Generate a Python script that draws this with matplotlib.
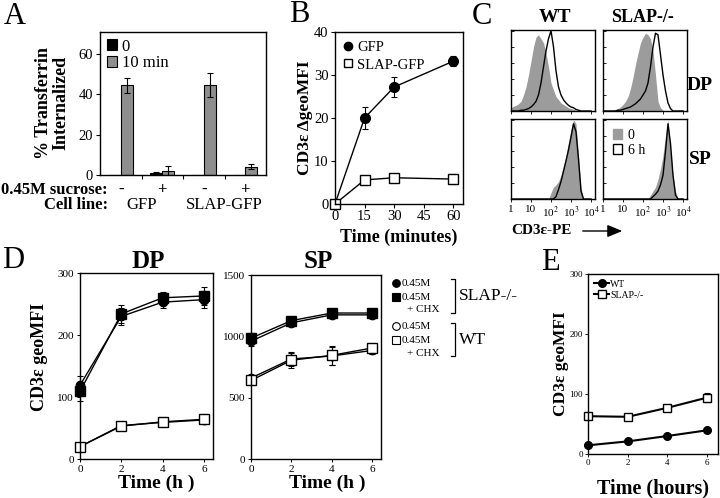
import matplotlib
matplotlib.use('Agg')
import matplotlib.pyplot as plt
from matplotlib.lines import Line2D
from matplotlib.patches import Patch, FancyArrowPatch
import numpy as np

plt.rcParams['font.family'] = ['Liberation Serif', 'DejaVu Serif']
plt.rcParams['mathtext.fontset'] = 'stix'
plt.rcParams['axes.linewidth'] = 1.0

W, H = 720, 498

# ---------------- Panel A data ----------------
a_sucrose = ['-', '+', '-', '+']
a_cell_lines = ['GFP', 'SLAP-GFP']
a_t0 = [0, 1.1, 0, 0]
a_t0_err = [0, 0.5, 0, 0]
a_t10 = [44.5, 2.0, 44.5, 4.2]
a_t10_err = [3.7, 2.5, 6.0, 1.3]
a_yticks = [0, 20, 40, 60]

# ---------------- Panel B data ----------------
b_time = [0, 15, 30, 60]
b_gfp = [0, 20.0, 27.2, 33.2]
b_gfp_err = [0, 2.6, 2.3, 1.2]
b_slap = [0, 5.6, 6.1, 5.8]
b_slap_err = [0, 0.8, 0.6, 1.2]

# ---------------- Panel C data (log10 fluorescence, % of max) ----------------
hist_decades = [0.0, 0.125, 0.25, 0.375, 0.5, 0.625, 0.75, 0.875, 1.0, 1.125, 1.25,
                1.375, 1.5, 1.625, 1.75, 1.875, 2.0, 2.125, 2.25, 2.375, 2.5, 2.625,
                2.75, 2.875, 3.0, 3.125, 3.25, 3.375, 3.5, 3.625, 3.75, 3.875, 4.0]
wt_dp_0h = [4, 6, 7, 9, 12, 20, 30, 45, 62, 80, 92, 95, 90, 85, 72, 55, 35, 26, 18, 14,
            10, 8, 6, 4, 3, 2, 1, 0, 0, 0, 0, 0, 0]
wt_dp_6h = [0, 0, 0, 0, 1, 1, 2, 3, 5, 8, 12, 20, 35, 55, 75, 90, 100, 80, 50, 30, 20,
            14, 10, 7, 5, 4, 2, 1, 0, 0, 0, 0, 0]
slap_dp_0h = [0, 0, 0, 1, 1, 2, 3, 5, 8, 12, 18, 28, 42, 58, 72, 85, 92, 97, 95, 90, 75,
              45, 12, 4, 1, 0, 0, 0, 0, 0, 0, 0, 0]
slap_dp_6h = [0, 0, 0, 0, 0, 0, 1, 1, 2, 3, 4, 5, 7, 9, 12, 15, 20, 25, 35, 55, 80, 97,
              95, 70, 45, 25, 10, 3, 0, 0, 0, 0, 0]
wt_sp_0h = [0, 0, 0, 0, 0, 0, 0, 0, 0, 0, 0, 0, 0, 0, 0, 0, 8, 15, 18, 22, 30, 42, 55,
            72, 88, 100, 95, 55, 15, 0, 0, 0, 0]
wt_sp_6h = [0, 0, 0, 0, 0, 0, 0, 0, 0, 0, 0, 0, 0, 0, 0, 0, 0, 0, 3, 12, 22, 35, 48, 62,
            78, 95, 85, 50, 10, 0, 0, 0, 0]
slap_sp_0h = [0, 0, 0, 0, 0, 0, 0, 0, 0, 0, 0, 0, 0, 0, 0, 0, 0, 0, 0, 5, 10, 15, 25, 38,
              55, 80, 100, 65, 30, 10, 0, 0, 0]
slap_sp_6h = [0, 0, 0, 0, 0, 0, 0, 0, 0, 0, 0, 0, 0, 0, 0, 0, 0, 0, 0, 0, 3, 6, 10, 18,
              30, 60, 95, 70, 30, 5, 0, 0, 0]
c_tick_labels = ['1', '10', '10$^2$', '10$^3$', '10$^4$']

# ---------------- Panel D data ----------------
d_time = [0, 2, 4, 6]
dp_slap_045 = [119, 230, 253, 257]
dp_slap_chx = [109, 234, 260, 263]
dp_slap_err = [15, 14, 9, 14]
dp_wt_045 = [20, 54, 59, 63]
dp_wt_chx = [20, 53, 60, 64]
dp_wt_err = [3, 4, 3, 3]
sp_slap_045 = [960, 1110, 1175, 1175]
sp_slap_chx = [985, 1128, 1190, 1190]
sp_slap_err = [40, 25, 20, 25]
sp_wt_045 = [660, 815, 840, 885]
sp_wt_chx = [640, 805, 845, 905]
sp_wt_err = [25, 60, 75, 25]

# ---------------- Panel E data ----------------
e_time = [0, 2, 4, 6]
e_wt = [14.5, 21, 30, 39.5]
e_wt_err = [1, 1, 1.5, 2]
e_slap = [63, 62, 77, 94]
e_slap_err = [2, 2, 3, 8]

fig = plt.figure(figsize=(W / 100, H / 100), dpi=100)


def rect(l, t, r, b):
    return [l / W, 1 - b / H, (r - l) / W, (b - t) / H]


def ftext(x, y, s, **kw):
    return fig.text(x / W, 1 - y / H, s, **kw)


def fline(xs, ys, **kw):
    fig.add_artist(Line2D([x / W for x in xs], [1 - y / H for y in ys],
                          transform=fig.transFigure, **kw))


LETTER = dict(fontsize=22, va='top', ha='left')

# ================= Panel A =================
axA = fig.add_axes(rect(100, 32, 266, 175))
xA = np.arange(len(a_sucrose))
bw = 0.29
axA.bar(xA - bw / 2, a_t0, bw, color='black', edgecolor='black', lw=0.8, label='0')
axA.bar(xA + bw / 2, a_t10, bw, color='#8e8e8e', edgecolor='black', lw=0.8, label='10 min')
for i in range(len(xA)):
    if a_t0_err[i] > 0:
        axA.errorbar(xA[i] - bw / 2, a_t0[i], yerr=a_t0_err[i], fmt='none', ecolor='black',
                     elinewidth=0.8, capsize=2.5, capthick=0.8)
    if a_t10_err[i] > 0:
        axA.errorbar(xA[i] + bw / 2, a_t10[i], yerr=a_t10_err[i], fmt='none', ecolor='black',
                     elinewidth=0.8, capsize=2.5, capthick=0.8)
axA.set_xlim(-0.5, 3.5)
axA.set_ylim(0, 71)
axA.set_yticks(a_yticks)
axA.set_xticks([0.5, 1.5, 2.5])
axA.set_xticklabels([])
axA.tick_params(axis='y', labelsize=10.5, length=3, width=0.8, pad=2)
axA.tick_params(axis='x', length=3, width=0.8)
axA.legend(loc='upper left', frameon=False, fontsize=12, handlelength=0.6, handleheight=0.6,
           handletextpad=0.3, labelspacing=0.05, borderaxespad=0.2, borderpad=0.2)
ftext(52, 103, '% Transferrin\nInternalized', rotation=90, ha='center', va='center',
      fontsize=13, fontweight='bold', linespacing=1.0)
for i, s in enumerate(a_sucrose):
    xd = axA.transData.transform((xA[i], 0))[0]
    ftext(xd, 190, s, ha='center', va='center', fontsize=12, fontweight='bold')
ftext(108, 190, '0.45M sucrose:', ha='right', va='center', fontsize=12, fontweight='bold')
ftext(108, 205, 'Cell line:', ha='right', va='center', fontsize=12, fontweight='bold')
for j, s in enumerate(a_cell_lines):
    xd = axA.transData.transform((2 * j + 0.5, 0))[0]
    ftext(xd, 205, s, ha='center', va='center', fontsize=12)
ftext(4, 2, 'A', **LETTER)

# ================= Panel B =================
axB = fig.add_axes(rect(335, 32, 463, 204))
axB.errorbar(b_time, b_gfp, yerr=b_gfp_err, fmt='-o', color='black', mfc='black', mec='black',
             ms=7, lw=1, elinewidth=0.8, capsize=2, capthick=0.8, label='GFP', clip_on=False)
axB.errorbar(b_time, b_slap, yerr=b_slap_err, fmt='-s', color='black', mfc='white', mec='black',
             ms=7, lw=1, elinewidth=0.8, capsize=2, capthick=0.8, label='SLAP-GFP', clip_on=False)
axB.set_xlim(0, 65)
axB.set_ylim(0, 40)
axB.set_xticks([0, 15, 30, 45, 60])
axB.set_yticks([0, 10, 20, 30, 40])
axB.tick_params(labelsize=10.5, length=3, width=0.8, pad=1.5)
hB, lB = axB.get_legend_handles_labels()
hB = [Line2D([], [], marker=h[0].get_marker(), mfc=h[0].get_markerfacecolor(), mec='black',
             ls='none', ms=6) for h in hB]
axB.legend(hB, lB, loc='upper left', frameon=False, fontsize=10.5, handlelength=0.6,
           handletextpad=0.3, labelspacing=0.3, borderaxespad=0.2)
ftext(305, 118, 'CD3ε ΔgeoMFI', rotation=90, ha='center', va='center', fontsize=12.5,
      fontweight='bold')
ftext(399, 237, 'Time (minutes)', ha='center', va='center', fontsize=13, fontweight='bold')
ftext(289, 0, 'B', **LETTER)

# ================= Panel C =================
hist_x = [10 ** d for d in hist_decades]
c_specs = [
    (rect(511, 30, 595, 111), wt_dp_0h, wt_dp_6h, False),
    (rect(603, 30, 687, 111), slap_dp_0h, slap_dp_6h, False),
    (rect(511, 119, 595, 199), wt_sp_0h, wt_sp_6h, True),
    (rect(603, 119, 687, 199), slap_sp_0h, slap_sp_6h, True),
]
c_axes = []
for pos, g, k, bottom in c_specs:
    ax = fig.add_axes(pos)
    ax.fill_between(hist_x, g, 0, color='#9c9c9c', lw=0, label='0')
    ax.plot(hist_x, k, color='black', lw=1.0, label='6 h')
    ax.set_xscale('log')
    ax.set_xlim(1, 10 ** 4.2)
    ax.set_ylim(0, 101)
    ax.set_xticks([1, 10, 100, 1000, 10000])
    ax.set_xticklabels(c_tick_labels if bottom else [])
    ax.set_yticks([0, 20, 40, 60, 80, 100])
    ax.set_yticklabels([])
    ax.tick_params(axis='y', length=2, width=0.6, direction='in')
    ax.tick_params(axis='x', which='major', length=2.5, width=0.6, labelsize=8, pad=1.5)
    ax.tick_params(axis='x', which='minor', length=1.3, width=0.5)
    c_axes.append(ax)
c_axes[3].legend(handles=[Patch(facecolor='#9c9c9c', edgecolor='#9c9c9c', label='0'),
                          Patch(facecolor='white', edgecolor='black', label='6 h')],
                 loc='upper left', frameon=False, fontsize=10, handlelength=0.7,
                 handleheight=0.7, handletextpad=0.4, labelspacing=0.15, borderaxespad=0.3)
ftext(555, 17, 'WT', ha='center', va='center', fontsize=14, fontweight='bold')
ftext(642, 17, 'SLAP-/-', ha='center', va='center', fontsize=13, fontweight='bold')
ftext(700, 85, 'DP', ha='center', va='center', fontsize=14, fontweight='bold')
ftext(700, 160, 'SP', ha='center', va='center', fontsize=14, fontweight='bold')
ftext(511, 231, 'CD3ε-PE', ha='left', va='center', fontsize=11, fontweight='bold')
fig.add_artist(FancyArrowPatch((580 / W, 1 - 231 / H), (625 / W, 1 - 231 / H),
                               transform=fig.transFigure, arrowstyle='-|>,head_length=6,head_width=2.5',
                               color='black', lw=1, mutation_scale=1.5))
ftext(472, 2, 'C', **LETTER)

# ================= Panel D =================
def draw_d(ax, s045, schx, serr, w045, wchx, werr):
    kw = dict(color='black', lw=1, elinewidth=0.8, capsize=2, capthick=0.8, clip_on=False)
    ax.errorbar(d_time, w045, yerr=werr, fmt='-o', mfc='white', mec='black', ms=6, **kw)
    ax.errorbar(d_time, wchx, yerr=werr, fmt='-s', mfc='white', mec='black', ms=6.5, **kw)
    ax.errorbar(d_time, s045, yerr=serr, fmt='-o', mfc='black', mec='black', ms=6, **kw)
    ax.errorbar(d_time, schx, yerr=serr, fmt='-s', mfc='black', mec='black', ms=6.5, **kw)
    ax.set_xticks([0, 2, 4, 6])
    ax.tick_params(labelsize=8, length=2.5, width=0.7, pad=2)


axDP = fig.add_axes(rect(80, 273, 213, 459))
draw_d(axDP, dp_slap_045, dp_slap_chx, dp_slap_err, dp_wt_045, dp_wt_chx, dp_wt_err)
axDP.set_xlim(0, 6.44)
axDP.set_ylim(0, 300)
axDP.set_yticks([0, 100, 200, 300])

axSP = fig.add_axes(rect(251, 275, 381, 459))
draw_d(axSP, sp_slap_045, sp_slap_chx, sp_slap_err, sp_wt_045, sp_wt_chx, sp_wt_err)
axSP.set_xlim(0, 6.44)
axSP.set_ylim(0, 1500)
axSP.set_yticks([0, 500, 1000, 1500])

ftext(148, 262, 'DP', ha='center', va='center', fontsize=18, fontweight='bold')
ftext(318, 262, 'SP', ha='center', va='center', fontsize=18, fontweight='bold')
ftext(156, 483, 'Time (h )', ha='center', va='center', fontsize=14, fontweight='bold')
ftext(327, 483, 'Time (h )', ha='center', va='center', fontsize=14, fontweight='bold')
ftext(40, 357, 'CD3ε geoMFI', rotation=90, ha='center', va='center', fontsize=13,
      fontweight='bold')

# legend for D
leg_items = [(283, 'o', 'black', '0.45M', None),
             (297, 's', 'black', '0.45M', '+ CHX'),
             (326, 'o', 'white', '0.45M', None),
             (340, 's', 'white', '0.45M', '+ CHX')]
for y, m, fc, t1, t2 in leg_items:
    fig.add_artist(Line2D([396 / W], [1 - y / H], marker=m, ms=5.5 if m == 'o' else 6,
                          mfc=fc, mec='black', mew=0.8, ls='none', transform=fig.transFigure))
    ftext(402, y, t1, ha='left', va='center', fontsize=8)
    if t2:
        ftext(407, y + 13, t2, ha='left', va='center', fontsize=8)
for y0, y1, lab in [(279, 313, 'SLAP-/-'), (323, 356, 'WT')]:
    fline([451, 455, 455, 451], [y0, y0, y1, y1], color='black', lw=0.9)
    ftext(459, (y0 + y1) / 2, lab, ha='left', va='center', fontsize=12.5)
ftext(2, 246, 'D', **LETTER)

# ================= Panel E =================
axE = fig.add_axes(rect(588, 274, 718, 454))
kwE = dict(color='black', lw=1.5, elinewidth=0.8, capsize=2, capthick=0.8, clip_on=False)
axE.errorbar(e_time, e_wt, yerr=e_wt_err, fmt='-o', mfc='black', mec='black', ms=5.5,
             label='WT', **kwE)
axE.errorbar(e_time, e_slap, yerr=e_slap_err, fmt='-s', mfc='white', mec='black', ms=6,
             label='SLAP-/-', **kwE)
axE.set_xlim(0, 6.55)
axE.set_ylim(0, 300)
axE.set_xticks([0, 2, 4, 6])
axE.set_yticks([0, 100, 200, 300])
axE.tick_params(labelsize=6.5, length=2, width=0.6, pad=1.5)
hE, lE = axE.get_legend_handles_labels()
hE = [h[0] for h in hE]
axE.legend(hE, lE, loc='upper left', frameon=False, fontsize=7, handlelength=1.6,
           handletextpad=0.1, labelspacing=0.2, borderaxespad=0.2)
ftext(561, 364, 'CD3ε geoMFI', rotation=90, ha='center', va='center', fontsize=12.5,
      fontweight='bold')
ftext(653, 488, 'Time (hours)', ha='center', va='center', fontsize=14.5, fontweight='bold')
ftext(541, 248, 'E', **LETTER)

fig.savefig('out.png', dpi=100)
